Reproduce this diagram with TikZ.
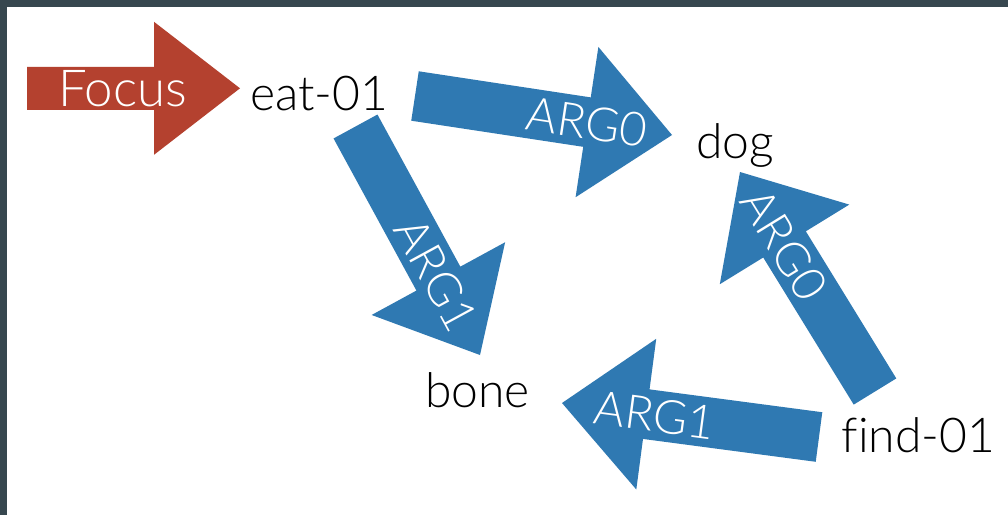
\documentclass[tikz,border=0pt]{standalone}
\usepackage{fontspec}
\setmainfont{Lato}[UprightFont={* Light}, Ligatures=CommonOff]
\usetikzlibrary{calc}

\definecolor{frame}{HTML}{37474F}
\definecolor{focusred}{HTML}{B4412F}
\definecolor{argblue}{HTML}{2F79B2}

\tikzset{
  word/.style={font=\fontsize{48}{52}\selectfont, text=black, inner sep=0pt, anchor=base},
  arglabel/.style={font=\fontsize{47}{52}\selectfont, text=white, inner sep=0pt, sloped},
}

% block arrow: #1 start, #2 tip, #3 fill colour, #4 shaft half width,
% #5 head half width, #6 head length, #7 label, #8 label shift along the arrow
\newcommand\blockarrow[8]{%
  \coordinate (#1-hb) at ($(#2)!#6!(#1)$);
  \fill[#3]
    ($(#1)!#4!90:(#2)$) -- ($(#1-hb)!#4!90:(#2)$) -- ($(#1-hb)!#5!90:(#2)$)
    -- (#2)
    -- ($(#1-hb)!#5!-90:(#2)$) -- ($(#1-hb)!#4!-90:(#2)$) -- ($(#1)!#4!-90:(#2)$)
    -- cycle;
  \path (#1-hb) -- (#2) node[arglabel, pos=#8] {#7};
}

\begin{document}
\begin{tikzpicture}[x=1pt, y=-1pt]
  \useasboundingbox (0,0) rectangle (1008,515);
  \fill[white] (0,0) rectangle (1008,515);
  % slide frame
  \fill[frame] (0,0) rectangle (1008,7);
  \fill[frame] (0,0) rectangle (7,515);

  % concept words
  \node[word] (eat)  at (319,110)   {eat-01};
  \node[word] (dog)  at (735,158)   {dog};
  \node[word] (bone) at (477.5,407) {bone};
  \node[word] (find) at (918.5,452) {find-01};

  % arrow end points
  \coordinate (focus-s) at (27,88.3);   \coordinate (focus-t) at (240,88.3);
  \coordinate (ed-s) at (415,96);       \coordinate (ed-t) at (672,135);
  \coordinate (eb-s) at (355.5,126.5);  \coordinate (eb-t) at (480,355);
  \coordinate (fd-s) at (875,391.5);    \coordinate (fd-t) at (740,172);
  \coordinate (fb-s) at (819,437);      \coordinate (fb-t) at (562,403);

  % focus marker
  \blockarrow{focus-s}{focus-t}{focusred}{21.5pt}{66.5pt}{86pt}{}{0}
  \node[font=\fontsize{51}{55}\selectfont, text=white, inner sep=0pt, anchor=base]
    (focuslabel) at (122.5,106.7) {Focus};

  % relations
  \blockarrow{ed-s}{ed-t}{argblue}{25pt}{76pt}{86pt}{ARG0}{0}
  \blockarrow{eb-s}{eb-t}{argblue}{25pt}{76pt}{87pt}{ARG1}{-0.05}
  \blockarrow{fd-s}{fd-t}{argblue}{25pt}{76pt}{85pt}{ARG0}{0}
  \blockarrow{fb-s}{fb-t}{argblue}{25pt}{76pt}{85pt}{ARG1}{-0.1}
\end{tikzpicture}
\end{document}
